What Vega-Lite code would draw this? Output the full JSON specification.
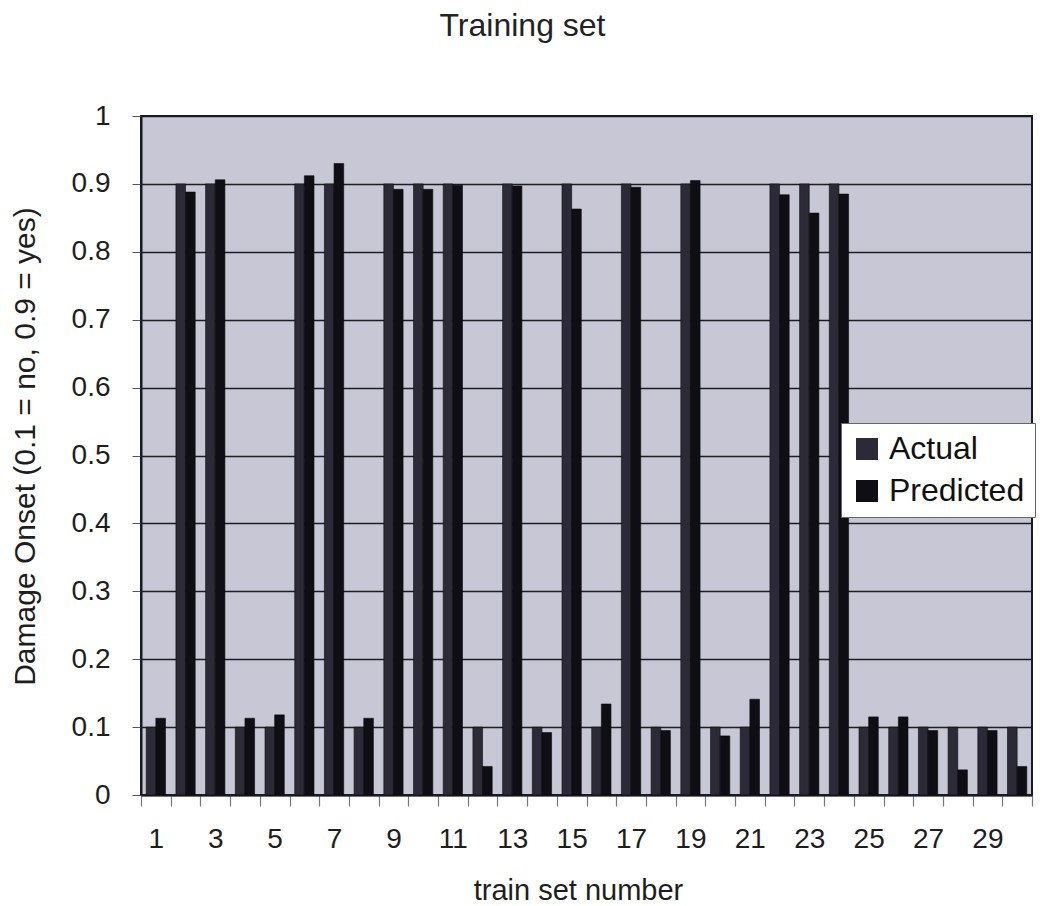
{
  "$schema": "https://vega.github.io/schema/vega-lite/v6.json",
  "width": 891,
  "height": 679,
  "autosize": {"type": "none"},
  "padding": {"left": 141, "top": 116, "right": 13, "bottom": 111},
  "background": "#ffffff",
  "title": {
    "text": "Training set",
    "fontSize": 32,
    "fontWeight": "normal",
    "font": "Liberation Sans",
    "color": "#222222",
    "anchor": "middle",
    "frame": "group",
    "dx": -64,
    "offset": 59
  },
  "data": {
    "values": [
      {"set": 1, "series": "Actual", "value": 0.1}, {"set": 1, "series": "Predicted", "value": 0.113},
      {"set": 2, "series": "Actual", "value": 0.9}, {"set": 2, "series": "Predicted", "value": 0.888},
      {"set": 3, "series": "Actual", "value": 0.9}, {"set": 3, "series": "Predicted", "value": 0.906},
      {"set": 4, "series": "Actual", "value": 0.1}, {"set": 4, "series": "Predicted", "value": 0.113},
      {"set": 5, "series": "Actual", "value": 0.1}, {"set": 5, "series": "Predicted", "value": 0.118},
      {"set": 6, "series": "Actual", "value": 0.9}, {"set": 6, "series": "Predicted", "value": 0.912},
      {"set": 7, "series": "Actual", "value": 0.9}, {"set": 7, "series": "Predicted", "value": 0.93},
      {"set": 8, "series": "Actual", "value": 0.1}, {"set": 8, "series": "Predicted", "value": 0.113},
      {"set": 9, "series": "Actual", "value": 0.9}, {"set": 9, "series": "Predicted", "value": 0.892},
      {"set": 10, "series": "Actual", "value": 0.9}, {"set": 10, "series": "Predicted", "value": 0.892},
      {"set": 11, "series": "Actual", "value": 0.9}, {"set": 11, "series": "Predicted", "value": 0.898},
      {"set": 12, "series": "Actual", "value": 0.1}, {"set": 12, "series": "Predicted", "value": 0.042},
      {"set": 13, "series": "Actual", "value": 0.9}, {"set": 13, "series": "Predicted", "value": 0.897},
      {"set": 14, "series": "Actual", "value": 0.1}, {"set": 14, "series": "Predicted", "value": 0.092},
      {"set": 15, "series": "Actual", "value": 0.9}, {"set": 15, "series": "Predicted", "value": 0.863},
      {"set": 16, "series": "Actual", "value": 0.1}, {"set": 16, "series": "Predicted", "value": 0.134},
      {"set": 17, "series": "Actual", "value": 0.9}, {"set": 17, "series": "Predicted", "value": 0.895},
      {"set": 18, "series": "Actual", "value": 0.1}, {"set": 18, "series": "Predicted", "value": 0.095},
      {"set": 19, "series": "Actual", "value": 0.9}, {"set": 19, "series": "Predicted", "value": 0.905},
      {"set": 20, "series": "Actual", "value": 0.1}, {"set": 20, "series": "Predicted", "value": 0.087},
      {"set": 21, "series": "Actual", "value": 0.1}, {"set": 21, "series": "Predicted", "value": 0.141},
      {"set": 22, "series": "Actual", "value": 0.9}, {"set": 22, "series": "Predicted", "value": 0.884},
      {"set": 23, "series": "Actual", "value": 0.9}, {"set": 23, "series": "Predicted", "value": 0.857},
      {"set": 24, "series": "Actual", "value": 0.9}, {"set": 24, "series": "Predicted", "value": 0.885},
      {"set": 25, "series": "Actual", "value": 0.1}, {"set": 25, "series": "Predicted", "value": 0.115},
      {"set": 26, "series": "Actual", "value": 0.1}, {"set": 26, "series": "Predicted", "value": 0.115},
      {"set": 27, "series": "Actual", "value": 0.1}, {"set": 27, "series": "Predicted", "value": 0.095},
      {"set": 28, "series": "Actual", "value": 0.1}, {"set": 28, "series": "Predicted", "value": 0.037},
      {"set": 29, "series": "Actual", "value": 0.1}, {"set": 29, "series": "Predicted", "value": 0.095},
      {"set": 30, "series": "Actual", "value": 0.1}, {"set": 30, "series": "Predicted", "value": 0.042}
    ]
  },
  "mark": {"type": "bar", "stroke": "#0a0a0e", "strokeWidth": 0.6},
  "encoding": {
    "x": {
      "field": "set",
      "type": "ordinal",
      "scale": {"paddingInner": 0, "paddingOuter": 0},
      "axis": {
        "title": "train set number",
        "titleFontSize": 29,
        "titleFontWeight": "normal",
        "titleX": 437,
        "titleY": 104,
        "titleBaseline": "alphabetic",
        "labelAngle": 0,
        "labelFontSize": 28,
        "labelBaseline": "alphabetic",
        "labelPadding": 41,
        "labelExpr": "datum.value % 2 == 1 ? datum.label : ''",
        "tickBand": "extent",
        "tickSize": 11,
        "tickColor": "#777777",
        "tickWidth": 1.2,
        "domainColor": "#1a1a22",
        "domainWidth": 2,
        "grid": false
      }
    },
    "xOffset": {
      "field": "series",
      "type": "nominal",
      "sort": ["Actual", "Predicted"],
      "scale": {"paddingInner": 0, "paddingOuter": 0.54}
    },
    "y": {
      "field": "value",
      "type": "quantitative",
      "scale": {"domain": [0, 1], "nice": false},
      "axis": {
        "title": "Damage Onset (0.1 = no, 0.9 = yes)",
        "titleFontSize": 30,
        "titleFontWeight": "normal",
        "titleX": -116,
        "titleY": 330,
        "titleBaseline": "middle",
        "values": [0, 0.1, 0.2, 0.3, 0.4, 0.5, 0.6, 0.7, 0.8, 0.9, 1],
        "format": "~g",
        "labelFontSize": 28,
        "labelPadding": 22,
        "tickSize": 9,
        "tickColor": "#555555",
        "domainColor": "#1a1a22",
        "domainWidth": 2,
        "grid": true,
        "gridColor": "#1c1c24",
        "gridWidth": 1.5,
        "gridOpacity": 1
      }
    },
    "color": {
      "field": "series",
      "type": "nominal",
      "scale": {"domain": ["Actual", "Predicted"], "range": ["#2c2a36", "#0f0e14"]},
      "legend": {
        "title": null,
        "orient": "none",
        "legendX": 700,
        "legendY": 307,
        "direction": "vertical",
        "fillColor": "#ffffff",
        "strokeColor": "#666666",
        "padding": 10,
        "symbolType": "square",
        "symbolSize": 484,
        "symbolStrokeWidth": 0,
        "labelFontSize": 32,
        "labelOffset": 6,
        "labelColor": "#111111",
        "rowPadding": 10
      }
    }
  },
  "config": {
    "font": "Liberation Sans",
    "view": {"fill": "#c7c7d5", "stroke": "#1a1a22", "strokeWidth": 2},
    "axis": {"labelColor": "#1e1e1e", "titleColor": "#1e1e1e", "labelFont": "Liberation Sans", "titleFont": "Liberation Sans"},
    "legend": {"labelFont": "Liberation Sans"}
  }
}
